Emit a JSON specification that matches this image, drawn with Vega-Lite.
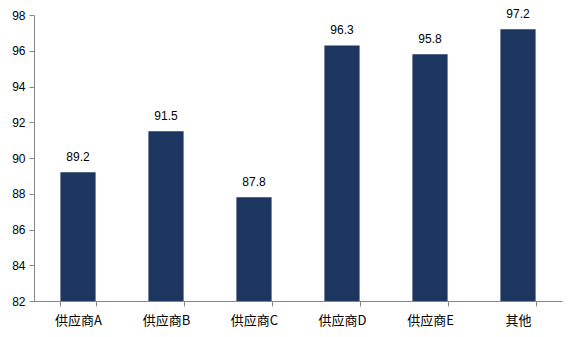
{
  "$schema": "https://vega.github.io/schema/vega-lite/v6.json",
  "autosize": {"type": "none"},
  "width": 528,
  "height": 286,
  "padding": {"left": 34, "top": 15, "right": 15, "bottom": 36},
  "background": "white",
  "config": {
    "view": {"stroke": null},
    "font": "Noto Sans CJK SC"
  },
  "data": {
    "values": [
      {"supplier": "供应商A", "value": 89.2},
      {"supplier": "供应商B", "value": 91.5},
      {"supplier": "供应商C", "value": 87.8},
      {"supplier": "供应商D", "value": 96.3},
      {"supplier": "供应商E", "value": 95.8},
      {"supplier": "其他", "value": 97.2}
    ]
  },
  "encoding": {
    "x": {
      "field": "supplier",
      "type": "nominal",
      "sort": null,
      "title": null,
      "scale": {"paddingInner": 0.6, "paddingOuter": 0.3},
      "axis": {
        "labelAngle": 0,
        "labelFont": "Noto Sans CJK SC",
        "labelFontSize": 13,
        "labelColor": "#000000",
        "labelPadding": 8,
        "domainColor": "#868686",
        "tickColor": "#868686",
        "tickBand": "extent",
        "tickSize": 5,
        "grid": false
      }
    },
    "y": {
      "field": "value",
      "type": "quantitative",
      "title": null,
      "scale": {"domain": [82, 98], "nice": false, "zero": false},
      "axis": {
        "values": [82, 84, 86, 88, 90, 92, 94, 96, 98],
        "labelFont": "Liberation Sans",
        "labelFontSize": 12,
        "labelColor": "#000000",
        "labelPadding": 4,
        "domainColor": "#868686",
        "tickColor": "#868686",
        "tickSize": 5,
        "grid": false
      }
    }
  },
  "layer": [
    {"mark": {"type": "bar", "color": "#1d3660", "clip": true}},
    {
      "mark": {"type": "text", "baseline": "bottom", "dy": -8, "fontSize": 12, "font": "Liberation Sans", "color": "#000000"},
      "encoding": {"text": {"field": "value", "type": "quantitative", "format": ".1f"}}
    }
  ]
}
